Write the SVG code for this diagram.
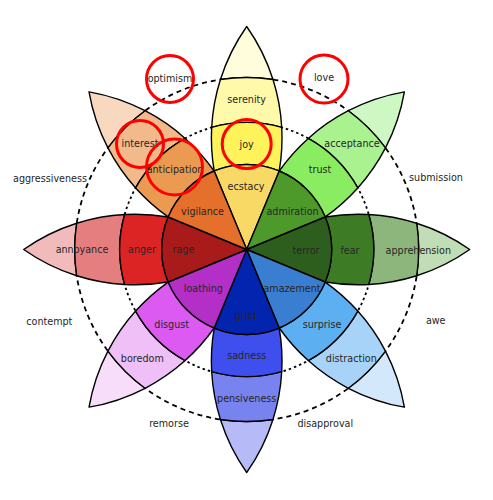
<svg xmlns="http://www.w3.org/2000/svg" xmlns:xlink="http://www.w3.org/1999/xlink" width="493" height="500" viewBox="0 0 493 500">
<style>
.seg{stroke:#000;stroke-width:1.4;stroke-linejoin:round}
.lbl{font-family:"DejaVu Sans","Liberation Sans",sans-serif;font-size:9.6px;fill:#262626;text-anchor:middle;dominant-baseline:central}
.ring{fill:none;stroke:#000;stroke-width:1.8}
.hl{fill:none;stroke:#FF0000;stroke-width:3}
</style>
<defs>
<path id="sector" d="M0,0 L32.5,-78.54 A85 85 0 0 0 -32.5,-78.54 Z"/>
<path id="band1" d="M32.5,-78.54 A193.6 193.6 0 0 0 35.03,-122.07 A127 127 0 0 0 -35.03,-122.07 A193.6 193.6 0 0 0 -32.5,-78.54 A85 85 0 0 1 32.5,-78.54 Z"/>
<path id="band2" d="M35.03,-122.07 A193.6 193.6 0 0 0 26.28,-169.98 A172 172 0 0 0 -26.28,-169.98 A193.6 193.6 0 0 0 -35.03,-122.07 A127 127 0 0 1 35.03,-122.07 Z"/>
<path id="band3" d="M26.28,-169.98 A193.6 193.6 0 0 0 0,-223 A193.6 193.6 0 0 0 -26.28,-169.98 A172 172 0 0 1 26.28,-169.98 Z"/>
</defs>
<rect width="493" height="500" fill="#fff"/>
<g id="connectors">
<circle class="ring" cx="246.7" cy="249.5" r="127" stroke-dasharray="2.5,3"/>
<circle class="ring" cx="246.7" cy="249.5" r="172" stroke-dasharray="5,4"/>
</g>
<g id="petal-joy" transform="translate(246.7 249.5)">
<use xlink:href="#band3" class="seg" fill="#FFFDDB"/>
<use xlink:href="#band2" class="seg" fill="#FFFAA9"/>
<use xlink:href="#band1" class="seg" fill="#FFF35C"/>
</g>
<g id="petal-trust" transform="translate(246.7 249.5) rotate(45)">
<use xlink:href="#band3" class="seg" fill="#CDF8C3"/>
<use xlink:href="#band2" class="seg" fill="#A9F28F"/>
<use xlink:href="#band1" class="seg" fill="#8AEC61"/>
</g>
<g id="petal-fear" transform="translate(246.7 249.5) rotate(90)">
<use xlink:href="#band3" class="seg" fill="#C1DDB6"/>
<use xlink:href="#band2" class="seg" fill="#8DB67C"/>
<use xlink:href="#band1" class="seg" fill="#3D7C24"/>
</g>
<g id="petal-surprise" transform="translate(246.7 249.5) rotate(135)">
<use xlink:href="#band3" class="seg" fill="#D3E9FB"/>
<use xlink:href="#band2" class="seg" fill="#A7D3F8"/>
<use xlink:href="#band1" class="seg" fill="#5CB0F2"/>
</g>
<g id="petal-sadness" transform="translate(246.7 249.5) rotate(180)">
<use xlink:href="#band3" class="seg" fill="#B6BBF8"/>
<use xlink:href="#band2" class="seg" fill="#7883F0"/>
<use xlink:href="#band1" class="seg" fill="#3F4FEE"/>
</g>
<g id="petal-disgust" transform="translate(246.7 249.5) rotate(225)">
<use xlink:href="#band3" class="seg" fill="#F8DDFA"/>
<use xlink:href="#band2" class="seg" fill="#EFC0F8"/>
<use xlink:href="#band1" class="seg" fill="#DD5AF2"/>
</g>
<g id="petal-anger" transform="translate(246.7 249.5) rotate(270)">
<use xlink:href="#band3" class="seg" fill="#F1BBBB"/>
<use xlink:href="#band2" class="seg" fill="#E57F7F"/>
<use xlink:href="#band1" class="seg" fill="#DD2424"/>
</g>
<g id="petal-anticipation" transform="translate(246.7 249.5) rotate(315)">
<use xlink:href="#band3" class="seg" fill="#F8D9C0"/>
<use xlink:href="#band2" class="seg" fill="#F2B98B"/>
<use xlink:href="#band1" class="seg" fill="#EB9A52"/>
</g>
<g id="core" transform="translate(246.7 249.5)">
<use xlink:href="#sector" class="seg" fill="#F9D966"/>
<use xlink:href="#sector" class="seg" fill="#4D9A2B" transform="rotate(45)"/>
<use xlink:href="#sector" class="seg" fill="#2E5E1D" transform="rotate(90)"/>
<use xlink:href="#sector" class="seg" fill="#3A7ED2" transform="rotate(135)"/>
<use xlink:href="#sector" class="seg" fill="#0324AE" transform="rotate(180)"/>
<use xlink:href="#sector" class="seg" fill="#B42FC8" transform="rotate(225)"/>
<use xlink:href="#sector" class="seg" fill="#A91B1B" transform="rotate(270)"/>
<use xlink:href="#sector" class="seg" fill="#E4702C" transform="rotate(315)"/>
</g>
<g id="labels">
<text class="lbl" x="170" y="78">optimism</text>
<text class="lbl" x="324" y="77">love</text>
<text class="lbl" x="246.7" y="99">serenity</text>
<text class="lbl" x="140" y="143">interest</text>
<text class="lbl" x="246.7" y="144">joy</text>
<text class="lbl" x="352" y="143">acceptance</text>
<text class="lbl" x="50" y="178">aggressiveness</text>
<text class="lbl" x="175" y="169">anticipation</text>
<text class="lbl" x="246" y="186">ecstacy</text>
<text class="lbl" x="320" y="169">trust</text>
<text class="lbl" x="436" y="177">submission</text>
<text class="lbl" x="202.5" y="211">vigilance</text>
<text class="lbl" x="292.5" y="211">admiration</text>
<text class="lbl" x="82" y="249.5">annoyance</text>
<text class="lbl" x="142" y="249.5">anger</text>
<text class="lbl" x="183.5" y="249.5">rage</text>
<text class="lbl" x="306" y="250">terror</text>
<text class="lbl" x="350" y="250">fear</text>
<text class="lbl" x="418.3" y="250">apprehension</text>
<text class="lbl" x="203.3" y="288">loathing</text>
<text class="lbl" x="292" y="288">amazement</text>
<text class="lbl" x="49.3" y="321">contempt</text>
<text class="lbl" x="171.7" y="324">disgust</text>
<text class="lbl" x="245.7" y="315.5">grief</text>
<text class="lbl" x="322" y="324">surprise</text>
<text class="lbl" x="435.7" y="320.7">awe</text>
<text class="lbl" x="142.3" y="358">boredom</text>
<text class="lbl" x="246.7" y="355.5">sadness</text>
<text class="lbl" x="351.3" y="358">distraction</text>
<text class="lbl" x="246.7" y="398">pensiveness</text>
<text class="lbl" x="169" y="423.3">remorse</text>
<text class="lbl" x="325.3" y="423.3">disapproval</text>
</g>
<g id="highlights">
<circle class="hl" cx="170" cy="79" r="23.5"/>
<circle class="hl" cx="324" cy="79" r="24"/>
<circle class="hl" cx="140" cy="144" r="23.5"/>
<circle class="hl" cx="174.5" cy="167" r="28"/>
<circle class="hl" cx="246.7" cy="144" r="24.5"/>
</g>
</svg>
